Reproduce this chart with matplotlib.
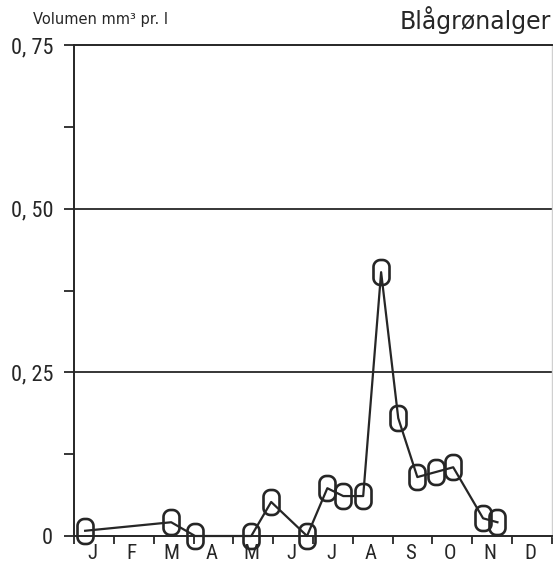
import numpy as np
import matplotlib.pyplot as plt
from matplotlib.path import Path
from matplotlib.ticker import FixedLocator

# sampling dates as fraction of the year in months (0 = 1 Jan), and volume in mm3 per litre
months = [0.28, 2.44, 3.04, 4.45, 4.95, 5.85, 6.36, 6.76, 7.26, 7.71, 8.14, 8.62, 9.10, 9.52, 10.27, 10.63]
volume = [0.008, 0.021, 0.0, 0.0, 0.052, 0.0, 0.073, 0.061, 0.061, 0.403, 0.18, 0.09, 0.098, 0.105, 0.027, 0.021]

month_labels = ["J", "F", "M", "A", "M", "J", "J", "A", "S", "O", "N", "D"]
ytick_vals = [0, 0.25, 0.50, 0.75]
ytick_labels = ["0", "0, 25", "0, 50", "0, 75"]

INK = "#262626"
narrow = ["Roboto Condensed", "Archivo Narrow", "PT Sans Narrow", "Liberation Sans Narrow", "DejaVu Sans"]


def rounded_box(w=0.64, h=1.0, r=0.28, n=12):
    # outline of a tall rounded rectangle used as the plot symbol
    pts = []
    corners = [(w / 2 - r, h / 2 - r, 0), (-w / 2 + r, h / 2 - r, 90),
               (-w / 2 + r, -h / 2 + r, 180), (w / 2 - r, -h / 2 + r, 270)]
    for cx, cy, a0 in corners:
        t = np.radians(np.linspace(a0, a0 + 90, n))
        pts += list(zip(cx + r * np.cos(t), cy + r * np.sin(t)))
    pts.append(pts[0])
    codes = [Path.MOVETO] + [Path.LINETO] * (len(pts) - 2) + [Path.CLOSEPOLY]
    return Path(pts, codes)


fig = plt.figure(figsize=(5.53, 5.70), dpi=100)
ax = fig.add_axes([74 / 553, 34 / 570, (552 - 74) / 553, (536 - 45) / 570])

ax.plot(months, volume, color=INK, lw=1.6, zorder=3, clip_on=False,
        marker=rounded_box(), markersize=18, markerfacecolor="none",
        markeredgecolor=INK, markeredgewidth=1.9)

for yv in [0.25, 0.50]:
    ax.axhline(yv, color=INK, lw=1.3, zorder=1)

ax.set_xlim(0, 12)
ax.set_ylim(0, 0.75)

for side in ["left", "bottom", "top"]:
    ax.spines[side].set_color(INK)
    ax.spines[side].set_linewidth(1.4)
ax.spines["right"].set_color("#d0d0d0")
ax.spines["right"].set_linewidth(1.0)

ax.set_yticks(ytick_vals)
ax.set_yticklabels(ytick_labels, family=narrow, fontsize=16, color=INK)
ax.yaxis.set_minor_locator(FixedLocator([0.125, 0.375, 0.625]))
ax.tick_params(axis="y", which="both", direction="out", length=7, width=1.3,
               color=INK, pad=8)

ax.set_xticks(np.arange(0, 13))
ax.set_xticklabels([])
ax.set_xticks(np.arange(12) + 0.45, minor=True)
ax.set_xticklabels(month_labels, minor=True, family=narrow, fontsize=15, color=INK)
ax.tick_params(axis="x", which="major", direction="out", length=6, width=1.3, color=INK)
ax.tick_params(axis="x", which="minor", length=0, pad=6)

fig.text(33 / 553, 1 - 24 / 570, "Volumen mm³ pr. l", fontsize=10.5, color=INK,
         ha="left", va="baseline")
fig.text(551 / 553, 1 - 29 / 570, "Blågrønalger", fontsize=17, color=INK,
         ha="right", va="baseline")

fig.savefig("out.png", dpi=100)
